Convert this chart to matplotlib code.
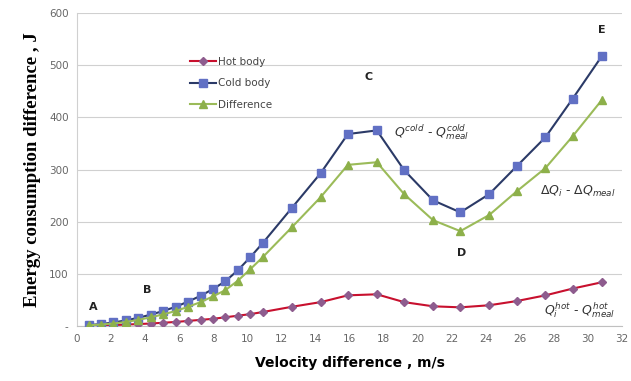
import matplotlib.pyplot as plt
from matplotlib.ticker import FuncFormatter

# velocity difference (m/s)
velocity = [0.68, 1.41, 2.14, 2.87, 3.6, 4.33, 5.06, 5.79, 6.52, 7.25, 7.98, 8.71, 9.44,
            10.17, 10.9, 12.6, 14.3, 15.9, 17.6, 19.2, 20.9, 22.5, 24.2, 25.8, 27.5, 29.1, 30.8]

hot_body = [0.5, 1, 2, 3, 4, 5, 6.5, 8, 10, 12, 14, 17, 20,
            23, 27, 37, 46, 59, 61, 46, 38, 36, 40, 48, 59, 72, 84]

cold_body = [2, 4, 7, 11, 16, 22, 29, 37, 47, 58, 71, 86, 107,
             132, 159, 226, 293, 368, 375, 299, 241, 218, 253, 306, 362, 436, 517]

difference = [1.5, 3, 5, 8, 12, 17, 22.5, 29, 37, 46, 57, 69, 87,
              109, 132, 189, 247, 309, 314, 253, 203, 182, 213, 258, 303, 364, 433]

point_labels = ['A', 'B', 'C', 'D', 'E']
point_x = [0.95, 4.1, 17.1, 22.6, 30.8]
point_y = [36, 69, 477, 140, 567]

fig = plt.figure(figsize=(6.31, 3.81), dpi=100)
ax = fig.add_axes([0.122, 0.144, 0.864, 0.822])

ax.plot(velocity, hot_body, color='#C8102E', lw=1.5, marker='D', ms=4.5,
        mfc='#8E5C8E', mec='#8E5C8E', label='Hot body', zorder=3)
ax.plot(velocity, cold_body, color='#2B3A67', lw=1.5, marker='s', ms=6,
        mfc='#6170C4', mec='#6170C4', label='Cold body', zorder=3)
ax.plot(velocity, difference, color='#9BBB59', lw=1.5, marker='^', ms=5.5,
        mfc='#8DB04A', mec='#8DB04A', label='Difference', zorder=3)

for lab, px, py in zip(point_labels, point_x, point_y):
    ax.text(px, py, lab, fontsize=8, fontweight='bold', color='#222222', ha='center', va='center')

ax.text(18.6, 372, r'$Q^{cold}$ - $Q^{cold}_{meal}$', fontsize=9, color='#333333', ha='left', va='center')
ax.text(27.2, 258, r'$\Delta Q_i$ - $\Delta Q_{meal}$', fontsize=9, color='#333333', ha='left', va='center')
ax.text(27.4, 31, r'$Q_i^{hot}$ - $Q^{hot}_{meal}$', fontsize=9, color='#333333', ha='left', va='center')

ax.set_xlim(0, 32)
ax.set_ylim(0, 600)
ax.set_xticks(range(0, 33, 2))
ax.set_yticks(range(0, 601, 100))
ax.yaxis.set_major_formatter(FuncFormatter(lambda v, p: '-' if v == 0 else '%d' % v))
ax.tick_params(axis='both', labelsize=7.5, colors='#666666', length=0, pad=6)
ax.grid(axis='y', color='#D0D0D0', lw=0.8)
ax.set_axisbelow(True)
for s in ['top', 'right']:
    ax.spines[s].set_visible(False)
ax.spines['left'].set_color('#D0D0D0')
ax.spines['bottom'].set_color('#C0C0C0')

ax.set_xlabel('Velocity difference , m/s', fontsize=10, fontweight='bold', labelpad=8)
ax.set_ylabel('Energy consumption difference , J', fontsize=13.5, fontweight='bold',
              family='Liberation Serif', labelpad=6)

leg = ax.legend(loc='upper left', bbox_to_anchor=(0.19, 0.89), frameon=False, fontsize=7.5,
                handlelength=2.5, labelspacing=1.1, handletextpad=0.2)
for t in leg.get_texts():
    t.set_color('#444444')

fig.savefig('out.png', dpi=100)
